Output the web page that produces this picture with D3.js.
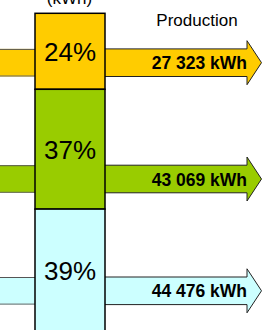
<!DOCTYPE html>
<html>
<head>
<meta charset="utf-8">
<style>
  body { margin: 0; background: #fff; }
  svg { display: block; font-family: "Liberation Sans", Arial, sans-serif; }
  .pct { font-size: 26px; fill: #000; }
  .kwh { font-size: 17.5px; font-weight: bold; fill: #000; }
  .head { font-size: 17px; fill: #000; }
</style>
</head>
<body>
<svg id="chart" width="262" height="330"></svg>
<script src="https://d3js.org/d3.v7.min.js"></script>
<script>
  // production per block, kWh
  const production = [27323, 43069, 44476];
  const colors = ["#FFCC00", "#99CC00", "#CCFFFF"];
  const columnTitle = "(kWh)";
  const arrowTitle = "Production";

  const width = 262, height = 330;
  const boxX0 = 35, boxX1 = 105;
  const arrowY = [62.7, 179, 290.8]; // arrow centre lines
  const shaftH = 13.8, headH = 22, headLen = 14.5, tipX = 261.5;

  const svg = d3.select("#chart");
  const total = d3.sum(production);

  let acc = 0;
  const rows = production.map((v, i) => {
    const r = { value: v, start: acc, end: acc + v, color: colors[i], ay: arrowY[i] };
    acc += v;
    return r;
  });

  const y = d3.scaleLinear().domain([0, total]).range([13.3, 332.8]);

  const fr = d3.formatLocale({ decimal: ",", thousands: "\u00a0", grouping: [3], currency: ["", ""] });
  const fmt = fr.format(",d");

  // stubs coming in from the left
  const stub = svg.append("g").selectAll("g").data(rows).join("g");
  stub.append("rect")
    .attr("x", -2).attr("width", boxX0 + 2)
    .attr("y", d => d.ay - shaftH).attr("height", shaftH * 2)
    .attr("fill", d => d.color);
  stub.append("line")
    .attr("x1", 0).attr("x2", boxX0)
    .attr("y1", d => d.ay - shaftH + 0.5).attr("y2", d => d.ay - shaftH + 0.5)
    .attr("stroke", "#555");
  stub.append("line")
    .attr("x1", 0).attr("x2", boxX0)
    .attr("y1", d => d.ay + shaftH - 0.5).attr("y2", d => d.ay + shaftH - 0.5)
    .attr("stroke", "#666");

  // arrows going out to the right
  const headX = tipX - headLen;
  const arrow = svg.append("g").selectAll("g").data(rows).join("g");
  arrow.append("path")
    .attr("d", d => {
      const c = d.ay;
      return `M${boxX1 - 2},${c - shaftH}L${headX},${c - shaftH}L${headX},${c - headH}` +
             `L${tipX},${c}L${headX},${c + headH}L${headX},${c + shaftH}L${boxX1 - 2},${c + shaftH}Z`;
    })
    .attr("fill", d => d.color)
    .attr("stroke", "#222")
    .attr("stroke-width", 1);
  arrow.append("text")
    .attr("class", "kwh")
    .attr("x", headX)
    .attr("y", d => d.ay + 6.5)
    .attr("text-anchor", "end")
    .text(d => fmt(d.value) + " kWh");

  // stacked column
  const col = svg.append("g");
  col.selectAll("rect").data(rows).join("rect")
    .attr("x", boxX0).attr("width", boxX1 - boxX0)
    .attr("y", d => y(d.start)).attr("height", d => y(d.end) - y(d.start))
    .attr("fill", d => d.color)
    .attr("stroke", "#000")
    .attr("stroke-width", 1.5);
  col.selectAll("text").data(rows).join("text")
    .attr("class", "pct")
    .attr("x", (boxX0 + boxX1) / 2)
    .attr("y", d => (y(d.start) + y(d.end)) / 2 + 9.5)
    .attr("text-anchor", "middle")
    .text(d => Math.round(d.value / total * 100) + "%");

  svg.append("text").attr("class", "head")
    .attr("x", (boxX0 + boxX1) / 2 - 0.5).attr("y", 3.5)
    .attr("text-anchor", "middle")
    .text(columnTitle);

  svg.append("text").attr("class", "head")
    .attr("x", 197).attr("y", 26)
    .attr("text-anchor", "middle")
    .text(arrowTitle);
</script>
</body>
</html>
